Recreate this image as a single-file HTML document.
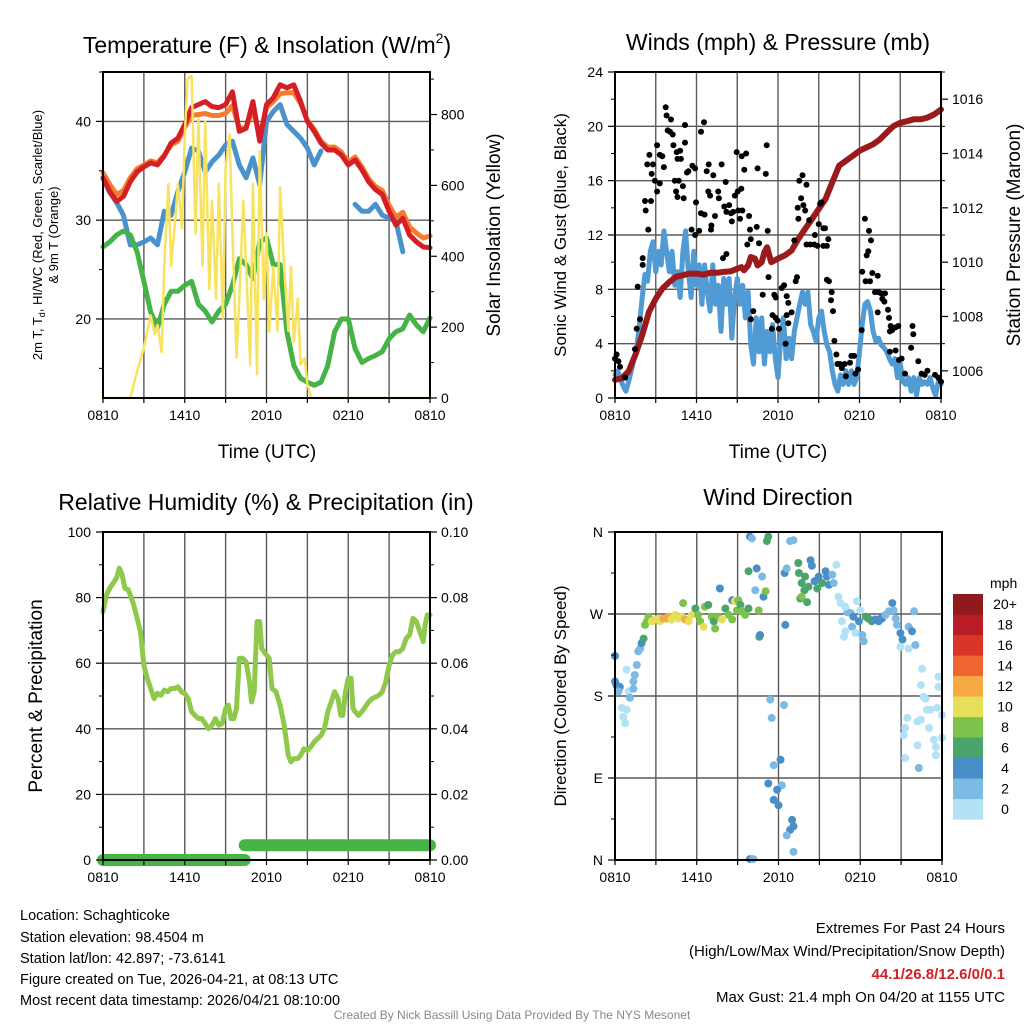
<!DOCTYPE html>
<html><head><meta charset="utf-8">
<style>
html,body{margin:0;padding:0;background:#fff;}
svg{display:block;font-family:"Liberation Sans",Arial,sans-serif;}
</style></head>
<body>
<svg id="chart" width="1024" height="1024" viewBox="0 0 1024 1024" xmlns="http://www.w3.org/2000/svg">
<rect width="1024" height="1024" fill="#fff"/>
<g id="grids"></g>
<g id="marks"></g>
<g id="frames"></g>
<!-- titles -->
<text x="267" y="53" font-size="23" text-anchor="middle">Temperature (F) &amp; Insolation (W/m<tspan font-size="14" dy="-10">2</tspan><tspan dy="10">)</tspan></text>
<text x="778" y="50" font-size="23" text-anchor="middle">Winds (mph) &amp; Pressure (mb)</text>
<text x="266" y="510" font-size="23" text-anchor="middle">Relative Humidity (%) &amp; Precipitation (in)</text>
<text x="778" y="505" font-size="23" text-anchor="middle">Wind Direction</text>
<!-- x axis titles -->
<text x="267" y="458" font-size="19" text-anchor="middle">Time (UTC)</text>
<text x="778" y="458" font-size="19" text-anchor="middle">Time (UTC)</text>
<!-- y axis titles -->
<text transform="translate(42,235) rotate(-90)" font-size="13" text-anchor="middle">2m T, T<tspan font-size="9" dy="3">d</tspan><tspan dy="-3">, HI/WC (Red, Green, Scarlet/Blue)</tspan></text>
<text transform="translate(58,235) rotate(-90)" font-size="13" text-anchor="middle">&amp; 9m T (Orange)</text>
<text transform="translate(500,235) rotate(-90)" font-size="19" text-anchor="middle">Solar Insolation (Yellow)</text>
<text transform="translate(566,235) rotate(-90)" font-size="17" text-anchor="middle">Sonic Wind &amp; Gust (Blue, Black)</text>
<text transform="translate(1020,235) rotate(-90)" font-size="19" text-anchor="middle">Station Pressure (Maroon)</text>
<text transform="translate(42,696) rotate(-90)" font-size="19" text-anchor="middle">Percent &amp; Precipitation</text>
<text transform="translate(566,696) rotate(-90)" font-size="17" text-anchor="middle">Direction (Colored By Speed)</text>
<!-- colorbar -->
<text x="990" y="588" font-size="14">mph</text>
<g id="colorbar"></g>
<!-- info -->
<g font-size="14.5">
<text x="20" y="920">Location: Schaghticoke</text>
<text x="20" y="942">Station elevation: 98.4504 m</text>
<text x="20" y="963">Station lat/lon: 42.897; -73.6141</text>
<text x="20" y="984">Figure created on Tue, 2026-04-21, at 08:13 UTC</text>
<text x="20" y="1005">Most recent data timestamp: 2026/04/21 08:10:00</text>
</g>
<g font-size="15" text-anchor="end">
<text x="1005" y="933">Extremes For Past 24 Hours</text>
<text x="1005" y="956">(High/Low/Max Wind/Precipitation/Snow Depth)</text>
<text x="1005" y="979" fill="#d22027" font-weight="bold">44.1/26.8/12.6/0/0.1</text>
<text x="1005" y="1002">Max Gust: 21.4 mph On 04/20 at 1155 UTC</text>
</g>
<text x="512" y="1019" font-size="12" fill="#888" text-anchor="middle">Created By Nick Bassill Using Data Provided By The NYS Mesonet</text>
</svg>
<script>
// ---------- data ----------
const halfHourTimes = [0,0.5,1,1.5,2,2.5,3,3.5,4,4.5,5,5.5,6,6.5,7,7.5,8,8.5,9,9.5,10,10.5,11,11.5,12,12.5,13,13.5,14,14.5,15,15.5,16,16.5,17,17.5,18,18.5,19,19.5,20,20.5,21,21.5,22,22.5,23,23.5,24];
const tempRed = [34.3,32.9,31.9,32.4,33.9,34.9,35.4,35.8,35.6,36.5,37.8,38.3,39.7,41.4,41.7,42.0,41.5,41.4,41.7,43.0,39.0,39.3,42.0,38.0,41.7,42.4,43.7,43.4,43.7,42.0,40.0,39.0,37.8,37.1,37.1,36.6,35.6,36.1,35.1,33.9,33.1,32.6,30.9,29.5,30.2,28.5,27.8,27.3,27.2];
const temp9m = [34.8,33.6,32.6,33.0,34.3,35.2,35.6,36.0,35.8,36.6,37.6,38.0,39.4,40.6,40.7,40.8,40.6,40.6,40.8,41.6,39.3,39.4,41.2,38.5,41.4,42.0,42.8,42.9,42.9,41.8,40.1,39.2,38.0,37.4,37.4,36.9,35.9,36.4,35.4,34.2,33.4,33.0,31.5,30.3,30.8,29.3,28.7,28.2,28.4];
const windChill = [34.2,32.8,31.8,30.5,27.5,27.5,27.8,28.2,27.5,30.9,30.5,32.9,34.9,37.3,37.0,34.9,35.9,36.6,37.6,38.0,35.6,34.3,36.3,33.6,40.0,41.0,41.7,39.7,39.0,38.3,37.3,35.6,37.0,null,null,null,null,31.6,30.9,30.9,31.6,30.5,30.2,29.9,26.8,null,null,null,null];
const dewPoint = [27.3,27.8,28.5,28.9,28.5,26.8,23.8,20.7,19.1,21.5,22.8,22.8,23.4,23.8,21.5,20.8,19.7,20.8,21.5,23.4,26.1,25.5,24.1,27.8,28.2,25.5,25.5,18.7,15.3,14.0,13.6,13.3,13.6,15.3,18.7,20.0,20.0,17.0,15.6,16.0,16.3,16.7,18.0,18.7,19.0,20.4,19.4,18.7,20.1];
const solarTimes = [0,2,2.5,3,3.5,3.8,4,4.3,4.5,4.8,5,5.3,5.5,5.8,6,6.2,6.5,6.8,7,7.3,7.5,7.8,8,8.3,8.5,8.8,9,9.3,9.5,9.8,10,10.3,10.5,10.8,11,11.3,11.5,11.8,12,12.2,12.5,12.8,13,13.3,13.6,13.8,14,14.3,14.5,14.8,15,15.3,24];
const solarValues = [0,0,76,141,233,180,206,130,372,604,372,502,604,480,743,900,909,465,789,372,780,307,557,280,604,224,650,743,465,113,280,557,372,94,604,67,696,280,465,187,370,190,594,370,190,370,159,280,94,113,39,0,0];
const windSpeed = [1.7,2.0,1.4,0.9,0.5,1.2,2.0,2.9,3.7,5.4,
7.4,9.1,8.6,10.8,11.5, 9.3,10.8,9.8,12.3,10.8, 9.3,10.8,8.3,9.3,7.4, 10.8,12.3,9.3,7.4,10.8, 8.3,9.8,6.9,9.8,7.8,
6.4,9.8,6.9,8.3,4.9, 8.8,6.9,8.8,4.4,7.4, 8.8,6.9,8.3,5.9,7.8, 3.9,2.5,5.9,3.4,5.9, 2.5,4.9,3.4,5.4,2.9,
1.5,4.4,5.9,2.9,4.4, 2.9,4.9,5.9,6.9,7.8, 6.9,7.8,5.4,4.9,4.2, 5.9,6.4,4.9,3.9,3.4, 2.0,1.0,0.5,1.7,1.0,
2.0,1.0,2.0,1.0,1.5, 3.4,5.4,6.9,7.1,6.4, 4.9,4.2,4.4,3.9,3.7, 3.4,2.9,2.5,2.9,1.5, 2.5,1.2,1.0,1.5,0.5,
1.5,0.2,1.5,1.0,1.2, 1.0,1.5,0.7,0.2,1.2, 1.0];
const pressureTimes = [0,0.5,1,1.5,2,2.5,3,3.5,4,4.5,5,5.5,6,6.5,7,7.5,8,8.5,9,9.3,9.5,9.8,10,10.3,10.5,10.8,11,11.2,11.5,12,12.5,13,13.5,14,14.5,15,15.5,16,16.5,17,17.5,18,18.5,19,19.5,20,20.5,21,21.5,22,22.5,23,23.5,24];
const pressureValues = [1005.67,1005.73,1005.98,1006.59,1007.32,1008.17,1008.66,1009.03,1009.27,1009.46,1009.52,1009.58,1009.58,1009.54,1009.61,1009.61,1009.64,1009.66,1009.76,1009.82,1009.70,1009.88,1010.19,1010.13,1009.88,1010.0,1010.37,1010.55,1010.0,1010.13,1010.25,1010.43,1010.86,1011.23,1011.59,1011.96,1012.32,1012.94,1013.55,1013.73,1013.91,1014.10,1014.22,1014.34,1014.52,1014.77,1015.01,1015.13,1015.19,1015.26,1015.26,1015.32,1015.44,1015.62];
const gustTimes = [0,0.12,0.25,0.37,0.74,1.47,1.6,1.84,1.67,2.04,2.04,2.45,2.26,2.21,2.65,2.38,2.53,2.7,2.8,2.94,3.1,3.1,3.3,3.48,3.6,3.3,3.73,3.8,4.12,3.88,4.05,4.25,4.3,4.54,4.79,4.6,4.85,4.4,4.7,4.5,5.0,4.6,5.06,5.15,5.15,5.3,5.4,5.7,5.9,6.33,6.55,5.64,5.9,6.2,5.96,6.33,6.6,6.75,6.9,6.87,7.0,7.24,7.36,7.1,7.07,7.6,7.65,7.85,8.15,8.05,8.2,8.4,8.54,8.6,8.7,8.83,9.03,9.3,8.96,9.33,9.65,9.52,9.08,9.37,9.2,9.87,9.94,9.74,10.0,10.5,10.43,10.6,11.1,11.17,11.24,8.2,7.95,11.3,10.87,10.18,10.0,11.73,11.83,11.6,11.83,11.97,11.55,12.07,12.27,12.45,12.64,12.76,13.0,12.64,12.76,12.56,13.2,13.3,13.4,13.45,13.5,13.57,13.8,13.7,13.87,14.0,14.1,14.3,14.1,14.36,14.72,14.67,14.9,15.0,15.1,15.2,15.34,15.46,15.34,15.6,15.7,15.6,15.75,15.95,15.9,16.05,16.15,16.3,16.37,16.56,16.7,16.9,17.0,17.3,17.4,17.6,17.7,17.9,18.16,18.2,18.4,18.7,18.85,18.65,18.53,18.45,18.77,18.94,19.34,19.14,19.4,19.6,19.68,19.88,19.83,19.34,20.1,20.17,20.3,20.4,20.66,20.86,20.24,20.24,20.66,20.9,21.1,21.35,21.8,21.9,21.96,22.33,22.57,22.8,23.0,23.56,23.8,24.0];
const gustValues = [2.9,3.2,2.7,2.3,1.5,3.6,5.1,5.8,8.2,9.8,10.3,12.4,13.8,14.5,14.5,17.2,17.9,16.5,17.2,16.0,15.2,18.6,17.9,17.8,17.0,15.8,21.4,20.8,20.5,19.7,19.6,19.4,18.6,18.1,18.2,17.6,17.6,16.0,16.0,15.2,15.6,14.8,14.7,20.1,18.8,16.6,16.7,17.1,16.9,19.6,20.3,12.4,12.0,12.3,14.4,13.6,13.5,16.7,17.2,15.2,14.9,16.4,13.4,12.7,12.4,15.2,14.7,17.2,15.9,14.1,13.7,14.2,13.6,13.0,13.7,14.9,15.2,15.4,18.1,17.8,18.0,16.8,13.8,13.8,13.2,13.4,12.4,11.3,11.7,16.9,12.6,11.4,16.5,18.6,12.3,10.6,10.3,8.9,7.6,6.4,5.8,7.6,7.4,6.1,5.9,5.7,5.1,5.1,8.1,8.3,7.5,7.0,6.3,6.1,5.5,4.0,11.6,8.6,8.9,14.0,13.2,16.0,16.4,14.7,14.2,13.8,15.7,13.1,11.3,11.3,12.0,11.3,11.2,12.8,14.3,14.4,12.5,12.5,11.2,11.2,11.7,8.7,8.6,7.8,7.2,6.4,4.2,3.2,2.5,2.5,2.2,2.5,1.6,2.6,3.1,3.1,1.8,2.1,5.0,9.3,13.2,12.3,11.6,10.8,10.5,8.6,8.6,9.2,9.0,7.8,7.8,7.7,7.3,7.7,7.1,6.3,6.5,5.9,5.3,5.0,5.2,5.3,4.9,3.4,3.5,2.8,2.9,1.8,3.7,5.3,4.7,2.7,1.8,1.7,2.0,1.7,1.5,1.2];
const rhTimes = [0,0.1,0.25,0.5,0.75,1,1.2,1.4,1.6,1.85,2,2.25,2.5,2.75,3,3.25,3.5,3.75,4,4.25,4.5,4.75,5,5.25,5.5,5.75,6,6.25,6.5,6.75,7,7.25,7.5,7.75,8,8.25,8.5,8.75,9,9.2,9.4,9.6,9.8,10,10.25,10.5,10.75,10.9,11.1,11.3,11.5,11.65,11.9,12.2,12.4,12.7,13,13.3,13.6,13.8,14,14.3,14.5,14.75,15,15.25,15.5,15.75,16,16.25,16.5,16.75,17,17.25,17.45,17.6,17.8,18,18.2,18.35,18.5,18.75,19,19.25,19.5,19.75,20,20.25,20.5,20.75,21,21.25,21.5,21.75,22,22.25,22.5,22.75,23,23.25,23.5,23.65,23.8,24];
const rhValues = [75.7,77.8,80.8,82.9,84.4,86.0,89.0,87.0,82.9,82.4,80.8,77.8,73.7,69.6,59.4,55.3,52.3,49.2,50.8,50.2,51.8,51.3,52.3,52.3,52.8,51.3,50.8,49.2,45.2,44.1,43.1,43.1,41.6,40.0,41.1,43.1,41.1,41.6,46.2,47.2,43.1,43.1,46.2,61.5,61.5,60.4,54.3,48.2,51.3,72.7,72.7,64.5,63.0,61.5,52.3,51.3,47.2,41.1,31.9,29.9,30.9,30.9,31.9,33.9,33.4,34.5,36.0,37.0,38.0,40.0,45.2,48.2,51.3,49.2,44.1,44.1,51.3,55.4,55.4,46.2,45.2,44.1,45.2,46.7,48.2,49.2,49.7,50.2,51.3,54.3,59.4,62.5,63.5,63.5,64.5,67.6,68.6,73.7,72.7,69.6,66.6,71.7,74.7,74.7];
const precipTimes = [0,10.4,10.4,24];
const precipValues = [0,0,0.0045,0.0045];
const dirTimes = [0,0,0.1,0.35,0.25,0.85,1.0,1.1,0.5,0.85,0.6,0.75,1.35,1.35,1.45,1.6,1.7,1.85,1.95,2.1,2.2,2.35,2.45,2.7,2.95,3.2,3.3,3.55,3.8,3.9,4.15,4.4,4.65,4.9,5.0,5.15,5.4,5.65,5.9,6.1,6.25,6.5,6.6,6.85,7.1,7.25,7.35,7.6,7.7,7.85,8.1,8.35,8.6,8.6,8.8,8.95,9.05,9.2,9.3,9.55,9.8,9.8,9.9,10.05,10.3,10.4,10.55,10.6,10.65,10.8,10.9,11.05,11.15,11.25,11.4,12.4,11.5,11.65,12.15,11.25,12.25,11.9,12.0,11.65,13.0,13.1,12.85,12.6,13.1,9.9,10.15,12.5,12.45,12.6,12.85,13.1,13.45,13.5,13.7,13.95,13.9,13.6,13.7,14.1,14.2,14.35,14.45,14.65,14.85,14.95,15.2,15.45,15.55,15.7,15.95,16.05,16.25,16.4,16.55,17.05,16.9,16.65,16.9,16.8,17.3,17.4,17.5,17.65,17.75,17.9,18.0,18.15,18.25,18.4,18.6,18.85,19.1,19.35,19.5,19.6,19.85,20.1,20.35,20.45,20.6,20.7,20.95,21.1,20.95,21.55,21.55,21.8,21.95,22.05,22.55,22.45,22.65,22.8,22.9,23.15,23.65,23.75,23.75,24.0,21.45,21.3,21.2,22.2,22.45,23.05,23.4,23.55,24.0,22.2,21.3,23.55,22.3];
const dirDegrees = [224,196,192,190,185,209,185,178,167,165,157,150,188,196,203,214,229,232,238,243,258,262,267,262,264,265,262,265,265,267,264,269,265,267,282,264,262,269,276,269,262,256,278,280,267,262,254,267,298,264,276,269,264,285,284,274,285,280,273,269,276,317,355,353,296,320,274,245,247,311,289,295,350,355,176,170,156,104,110,84,82,77,60,66,44,37,33,27,9,1,1,258,315,320,350,351,326,315,304,311,296,287,289,283,300,329,323,306,298,311,304,317,311,302,313,304,324,289,282,272,278,262,251,245,271,256,267,249,284,262,274,247,240,267,265,262,264,262,265,265,269,273,282,274,265,258,249,242,234,232,256,251,273,236,210,192,179,177,165,165,167,201,190,159,156,145,137,152,154,145,132,124,134,126,112,115,101];
const dirSpeeds = [5,5,5,5,3,1,1,3,1,1,1,1,3,3,3,3,3,3,5,7,9,9,9,11,11,11,11,13,13,13,11,11,11,11,9,13,11,11,7,9,9,11,9,7,9,7,9,9,5,11,7,9,9,5,11,9,9,7,9,9,7,7,5,3,3,5,9,7,5,3,5,9,7,7,3,3,3,3,5,5,3,5,5,5,5,5,5,3,3,5,3,5,5,3,3,3,7,7,7,7,7,7,9,7,7,5,5,5,7,5,7,5,5,5,3,3,1,1,1,3,1,1,1,1,3,3,5,1,1,5,1,3,3,7,7,7,5,5,5,5,3,3,5,3,3,3,5,5,1,1,3,5,3,3,1,1,1,1,1,1,1,1,1,1,1,1,1,1,1,1,1,1,1,1,1,1,3];
const timeTickLabels = ["0810","1410","2010","0210","0810"];
const tempTicks = [20,30,40];
const solarTicks = [0,200,400,600,800];
const windTicks = [0,4,8,12,16,20,24];
const pressureTicks = [1006,1008,1010,1012,1014,1016];
const rhTicks = [0,20,40,60,80,100];
const precipTicks = [0,0.02,0.04,0.06,0.08,0.1];
const dirTicks = [0,90,180,270,360];
const dirTickLabels = ["N","E","S","W","N"];
const speedBins = ["0","2","4","6","8","10","12","14","16","18","20+"];
const speedColors = ["#b3e1f6","#7cb9e3","#498fc7","#49a56c","#7dc24a","#e6df5a","#f6a944","#ef6530","#da3528","#b81c25","#8e1a1b"];

// ---------- helpers ----------
const NS="http://www.w3.org/2000/svg";
const grids=document.getElementById('grids'), marks=document.getElementById('marks'), frames=document.getElementById('frames');
function mk(tag, parent, attrs){const e=document.createElementNS(NS,tag);for(const k in attrs)e.setAttribute(k,attrs[k]);parent.appendChild(e);return e;}
function lin(d0,d1,r0,r1){return v=>r0+(v-d0)*(r1-d1===0?0:1)*(r1-r0)/(d1-d0);}
function panel(x0,x1,y0,y1){return {x0,x1,y0,y1,xs:lin(0,24,x0,x1)};}
const P1=panel(103,430,72,398), P2=panel(615,941,72,398), P3=panel(103,430,532,860), P4=panel(615,942,532,860);
const yTemp=lin(12,45,398,72), ySolar=lin(0,920,398,72);
const yWind=lin(0,24,398,72), yPress=lin(1005,1017,398,72);
const yRH=lin(0,100,860,532), yPrecip=lin(0,0.1,860,532);
const yDir=lin(0,360,860,532);

function pathFrom(ts,vs,xs,ys){let d='',pen=false;for(let i=0;i<vs.length;i++){if(vs[i]===null){pen=false;continue;}d+=(pen?'L':'M')+xs(ts[i]).toFixed(1)+' '+ys(vs[i]).toFixed(1);pen=true;}return d;}
function line(name,ts,vs,ys,P,color,w){
  const e=mk('path',marks,{d:pathFrom(ts,vs,P.xs,ys),fill:'none',stroke:color,'stroke-width':w,'stroke-linejoin':'round','stroke-linecap':'round'});
  
  
}
function txt(parent,x,y,s,size,anchor){const e=mk('text',parent,{x,y,'font-size':size,'text-anchor':anchor});e.textContent=s;return e;}

function axes(P,tag,hTicks,ys){
  // vertical grid each 3h
  for(let h=3;h<24;h+=3){const x=P.xs(h);const g=mk('line',grids,{x1:x,x2:x,y1:P.y0,y2:P.y1,stroke:'#5a5a5a','stroke-width':1.4});
    
    }
  hTicks.forEach(v=>{const y=ys(v);if(y<=P.y0+1||y>=P.y1-1)return;const g=mk('line',grids,{x1:P.x0,x2:P.x1,y1:y,y2:y,stroke:'#5a5a5a','stroke-width':1.4});
    
    });
  const f=mk('rect',frames,{x:P.x0,y:P.y0,width:P.x1-P.x0,height:P.y1-P.y0,fill:'none',stroke:'#000','stroke-width':2});
  
  
  for(let h=0;h<=24;h+=3){const x=P.xs(h);mk('line',frames,{x1:x,x2:x,y1:P.y1,y2:P.y1+5,stroke:'#000','stroke-width':1.2});}
  timeTickLabels.forEach((s,i)=>{const t=txt(frames,P.xs(i*6),P.y1+22,s,14,'middle');
    
    });
}
function leftTicks(P,tag,ticks,ys,labels,minor){
  ticks.forEach((v,i)=>{const y=ys(v);mk('line',frames,{x1:P.x0-7,x2:P.x0,y1:y,y2:y,stroke:'#000','stroke-width':1.2});
    const t=txt(frames,P.x0-12,y+5,labels?labels[i]:String(v),14,'end');
    
    });
  (minor||[]).forEach(v=>{const y=ys(v);mk('line',frames,{x1:P.x0-4,x2:P.x0,y1:y,y2:y,stroke:'#000','stroke-width':1});});
}
function rightTicks(P,tag,ticks,ys,fmt,minor){
  ticks.forEach(v=>{const y=ys(v);mk('line',frames,{x1:P.x1,x2:P.x1+7,y1:y,y2:y,stroke:'#000','stroke-width':1.2});
    const t=txt(frames,P.x1+11,y+5,fmt(v),14,'start');
    
    });
  (minor||[]).forEach(v=>{const y=ys(v);mk('line',frames,{x1:P.x1,x2:P.x1+4,y1:y,y2:y,stroke:'#000','stroke-width':1});});
}

// ---------- panel 1 ----------
axes(P1,'temperature',tempTicks,yTemp);
leftTicks(P1,'temperature',tempTicks,yTemp,null,[15,25,35,45]);
rightTicks(P1,'insolation',solarTicks,ySolar,v=>String(v),[100,300,500,700,900]);
line('wind-chill-line',halfHourTimes,windChill,yTemp,P1,'#4b92cc',5);
line('dewpoint-line',halfHourTimes,dewPoint,yTemp,P1,'#46b347',5);
line('temp-9m-line',halfHourTimes,temp9m,yTemp,P1,'#f47c2c',5);
line('temp-2m-line',halfHourTimes,tempRed,yTemp,P1,'#d51f26',5);
line('insolation-line',solarTimes,solarValues,ySolar,P1,'#f8e25e',2.5);

// ---------- panel 2 ----------
axes(P2,'winds',windTicks,yWind);
leftTicks(P2,'winds',windTicks,yWind,null,[2,6,10,14,18,22]);
rightTicks(P2,'pressure',pressureTicks,yPress,v=>String(v),[1007,1009,1011,1013,1015,1017]);
const windTimes=windSpeed.map((v,i)=>i*0.2);
line('sonic-wind-line',windTimes,windSpeed,yWind,P2,'#519bd5',5);
line('pressure-line',pressureTimes,pressureValues,yPress,P2,'#9b1b1c',6);
gustTimes.forEach((t,i)=>{
  const c=mk('circle',marks,{cx:P2.xs(t).toFixed(1),cy:yWind(gustValues[i]).toFixed(1),r:3,fill:'#000'});
  
  
});

// ---------- panel 3 ----------
axes(P3,'humidity',rhTicks,yRH);
leftTicks(P3,'humidity',rhTicks,yRH,null,[10,30,50,70,90]);
rightTicks(P3,'precip',precipTicks,yPrecip,v=>v.toFixed(2),[0.01,0.03,0.05,0.07,0.09]);
line('humidity-line',rhTimes,rhValues,yRH,P3,'#8fc94b',5);
for(let i=0;i<precipTimes.length-1;i++){
  if(precipValues[i]!==precipValues[i+1])continue;
  const s=mk('line',marks,{x1:P3.xs(precipTimes[i]),x2:P3.xs(precipTimes[i+1]),y1:yPrecip(precipValues[i]),y2:yPrecip(precipValues[i+1]),stroke:'#46b446','stroke-width':12,'stroke-linecap':'round'});
  
  
}

// ---------- panel 4 ----------
axes(P4,'direction',dirTicks,yDir);
leftTicks(P4,'direction',dirTicks,yDir,dirTickLabels,[45,135,225,315]);
function speedColor(s){return speedColors[Math.min(10,Math.floor(s/2))];}
dirTimes.forEach((t,i)=>{
  const c=mk('circle',marks,{cx:P4.xs(t).toFixed(1),cy:yDir(dirDegrees[i]).toFixed(1),r:4,fill:speedColor(dirSpeeds[i])});
  
  
});
// colorbar
const cb=document.getElementById('colorbar');
speedBins.forEach((lab,i)=>{
  const k=speedBins.length-1-i;
  const y=594+k*20.5;
  const r=mk('rect',cb,{x:953,y:y,width:30,height:20.6,fill:speedColors[i]});
  
  
  const t=txt(cb,1005,y+15,lab,14,'middle');
  
  
});
</script>
</body></html>
